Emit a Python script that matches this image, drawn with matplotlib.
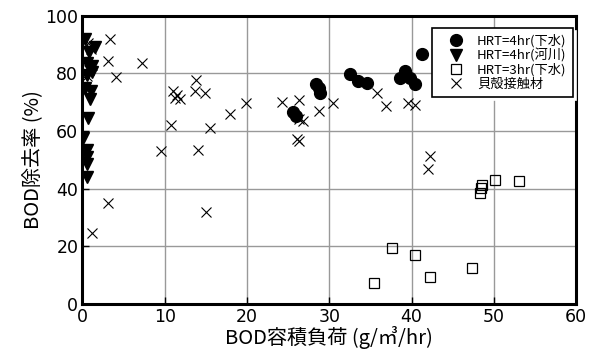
import matplotlib
matplotlib.use("Agg")
import matplotlib.pyplot as plt

plt.rcParams['font.family'] = ['Noto Sans CJK JP', 'DejaVu Sans']

# HRT=4hr (sewage) - circles
circ_x = [25.6, 25.9, 28.4, 28.7, 28.9, 32.5, 33.5, 34.6, 39.2, 38.6, 39.8, 40.4, 41.3]
circ_y = [66.5, 65.3, 76.3, 74.8, 73.3, 79.7, 77.4, 76.6, 80.6, 78.2, 78.2, 76.2, 86.5]

# HRT=4hr (river) - triangles
tri_x = [0.3, 1.5, 0.8, 0.5, 1.2, 0.6, 1.2, 0.3, 1.0, 0.9, 0.7, 0.1, 0.5, 0.6, 0.5, 0.5]
tri_y = [92, 89, 87.5, 83.5, 82.5, 79.5, 80.5, 75, 74, 71, 64.5, 57.5, 53.5, 51, 48.5, 44]

# HRT=3hr (sewage) - squares
sq_x = [35.4, 37.6, 40.4, 42.2, 47.3, 48.3, 48.4, 48.6, 50.1, 53.0]
sq_y = [7.4, 19.3, 17.0, 9.5, 12.6, 38.6, 40.1, 41.2, 43.0, 42.7]

# Shell contact material - crosses
x_x = [0.0, 0.5, 0.7, 1.0, 1.2, 0.8, 3.3, 3.1, 4.1, 7.2, 1.2, 3.1, 9.5, 10.8,
       11.0, 11.5, 11.2, 11.8, 13.8, 13.7, 14.9, 14.1, 15.0, 15.5, 17.9, 19.9,
       24.3, 26.3, 26.3, 26.8, 26.1, 26.3, 28.8, 30.5, 35.8, 36.9, 39.6, 40.4,
       42.3, 42.0]
x_y = [79.5, 79.0, 90.5, 88.5, 83.0, 81.0, 92.0, 84.2, 78.8, 83.4, 24.7, 35.1, 53.0, 62.0,
       74.0, 72.5, 71.5, 71.0, 77.6, 73.8, 73.0, 53.3, 31.8, 60.9, 65.9, 69.8,
       70.0, 70.6, 64.0, 63.3, 57.2, 56.6, 67.0, 69.8, 73.0, 68.5, 69.6, 69.0,
       51.3, 46.7]

labels = ['HRT=4hr(下水)', 'HRT=4hr(河川)', 'HRT=3hr(下水)', '貝殻接触材']
xticks = [0, 10, 20, 30, 40, 50, 60]
yticks = [0, 20, 40, 60, 80, 100]

fig = plt.figure(figsize=(6.02, 3.53), dpi=100)
ax = fig.add_axes([0.137, 0.139, 0.820, 0.817])

ax.plot(circ_x, circ_y, 'o', color='black', markersize=8.5, linestyle='none', label=labels[0], zorder=3)
ax.plot(tri_x, tri_y, 'v', color='black', markersize=8, linestyle='none', label=labels[1], zorder=3)
ax.plot(sq_x, sq_y, 's', markerfacecolor='none', markeredgecolor='black', markeredgewidth=0.9,
        markersize=7.5, linestyle='none', label=labels[2], zorder=3)
ax.plot(x_x, x_y, 'x', color='black', markeredgewidth=0.8, markersize=7.5,
        linestyle='none', label=labels[3], zorder=3)

ax.set_xlim(0, 60)
ax.set_ylim(0, 100)
ax.set_xticks(xticks)
ax.set_yticks(yticks)
ax.grid(True, color='#999999', linewidth=1.0)
ax.set_axisbelow(True)
for s in ax.spines.values():
    s.set_linewidth(2.2)
    s.set_color('black')
ax.tick_params(direction='in', length=5, width=1, pad=3)
for lab in ax.get_xticklabels() + ax.get_yticklabels():
    lab.set_family('DejaVu Sans')
    lab.set_fontsize(12.5)

ax.set_xlabel('BOD容積負荷 (g/㎥/hr)', fontsize=14.5, labelpad=0)
ax.set_ylabel('BOD除去率 (%)', fontsize=14.5, labelpad=1)

leg = ax.legend(loc='upper right', bbox_to_anchor=(0.994, 0.957), borderaxespad=0,
                fancybox=False, shadow={'shade': 0, 'alpha': 1},
                fontsize=9.5, labelspacing=0.05, handletextpad=0.28, handlelength=2.6,
                borderpad=0.5, framealpha=1, edgecolor='black')
leg.get_frame().set_linewidth(1.2)

fig.savefig('out.png', dpi=100)
